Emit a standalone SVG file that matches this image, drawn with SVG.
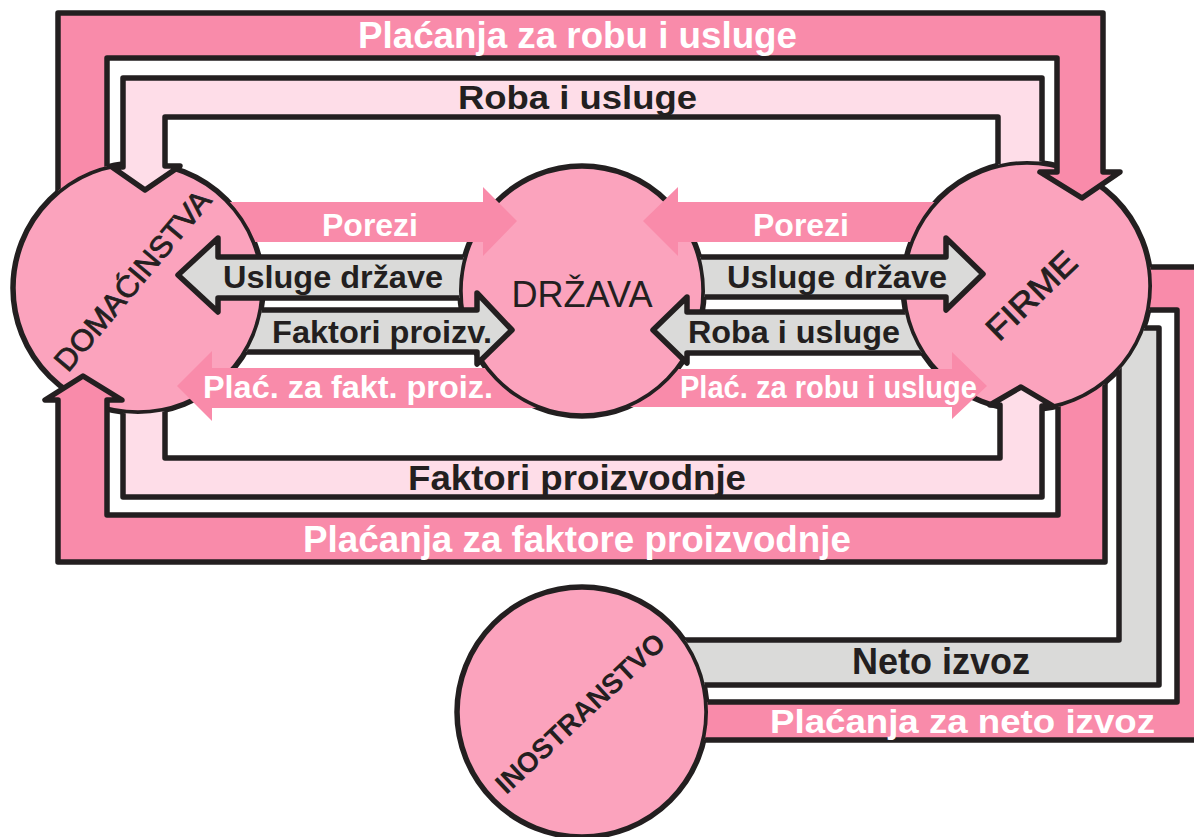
<svg xmlns="http://www.w3.org/2000/svg" width="1194" height="837" viewBox="0 0 1194 837">
<style>
.ol{stroke:#231F20;stroke-width:5.5;stroke-linejoin:round}
.pk{fill:#F98BAA}
.lp{fill:#FEDDE8}
.gr{fill:#DADAD9}
.nd{fill:#FBA3BD;stroke:#231F20;stroke-width:5.5}
.t{font-family:"Liberation Sans",Arial,sans-serif;font-weight:bold}
.w{fill:#FFFFFF}
.k{fill:#231F20}
.nl{font-family:"Liberation Sans",Arial,sans-serif;fill:#231F20}
.hv{stroke:#231F20;stroke-width:0.8}
</style>
<defs>
<clipPath id="cH"><path clip-rule="evenodd" d="M-10,-10H1210V850H-10Z M12,288a126,126 0 1,0 252,0a126,126 0 1,0 -252,0Z"/></clipPath>
<clipPath id="cS"><path clip-rule="evenodd" d="M459,291a123,126 0 1,0 246,0a123,126 0 1,0 -246,0Z M-10,-10H1210V850H-10Z"/></clipPath>
<clipPath id="cF"><path clip-rule="evenodd" d="M-10,-10H1210V850H-10Z M902,286a125,125 0 1,0 250,0a125,125 0 1,0 -250,0Z"/></clipPath>
<clipPath id="cFI"><path clip-rule="evenodd" d="M-10,-10H1210V850H-10Z M902,286a125,125 0 1,0 250,0a125,125 0 1,0 -250,0Z M456,712a126,126 0 1,0 252,0a126,126 0 1,0 -252,0Z"/></clipPath>
</defs>
<rect x="0" y="0" width="1194" height="837" fill="#FFFFFF"/>

<g id="domacinstva">
<circle class="nd" cx="138" cy="288" r="125"/>
<text class="nl hv" font-size="30" text-anchor="middle" textLength="225" lengthAdjust="spacingAndGlyphs" transform="translate(132,280) rotate(-50)" x="0" y="11">DOMAĆINSTVA</text>
</g>
<g id="drzava">
<ellipse class="nd" cx="582" cy="291" rx="122" ry="125"/>
<text class="nl" font-size="37" text-anchor="middle" textLength="141" lengthAdjust="spacingAndGlyphs" x="582" y="307">DRŽAVA</text>
</g>
<g id="firme">
<circle class="nd" cx="1027" cy="286" r="124"/>
<text class="nl hv" font-size="33" text-anchor="middle" textLength="112" lengthAdjust="spacingAndGlyphs" transform="translate(1031,295) rotate(-44)" x="0" y="12">FIRME</text>
</g>
<g id="inostranstvo">
<circle class="nd" cx="582" cy="712" r="125"/>
<text class="nl" font-size="28" font-weight="bold" text-anchor="middle" textLength="220" lengthAdjust="spacingAndGlyphs" transform="translate(580,713) rotate(-43)" x="0" y="10">INOSTRANSTVO</text>
</g>

<g id="connectors">
<path class="pk ol" clip-path="url(#cFI)" d="M600,702L1177,702L1177,310L1100,310L1100,267L1200,267L1200,740L600,740Z"/>
<path class="gr ol" clip-path="url(#cFI)" d="M600,640L1119,640L1119,345L1110,328L1159,328L1159,685L600,685Z"/>
<path class="pk ol" clip-path="url(#cH)" d="M58,260L58,13L1103,13L1103,172L1120,172L1082,198L1040,172L1057,172L1057,58L107,58L107,260Z"/>
<path class="lp ol" clip-path="url(#cF)" d="M998,250L998,117L165,117L165,166L180,166L145,190L112,167L123,167L123,78L1042,78L1042,250Z"/>
<path class="lp ol" clip-path="url(#cH)" d="M165,360L165,458L1000,458L1000,405L990,405L1021,387L1053,406L1042,406L1042,497L123,497L123,360Z"/>
<path class="pk ol" clip-path="url(#cF)" d="M1058,350L1058,515L107,515L107,400L122,400L83,376L45,400L58,400L58,562L1105,562L1105,350Z"/>

<path class="pk" clip-path="url(#cH)" d="M140,202L483,202L483,187L517,221L483,256L483,242L140,242Z"/>
<path class="gr ol" clip-path="url(#cS)" d="M560,257L218,257L218,238L178,275L218,312L218,298L560,298Z"/>
<path class="gr ol" clip-path="url(#cH)" d="M140,310L477,310L477,293L512,330L477,364L477,352L140,352Z"/>
<path class="pk" clip-path="url(#cS)" d="M600,368L212,368L212,351L177,386L212,421L212,408L600,408Z"/>
<path class="pk" clip-path="url(#cF)" d="M1000,202L678,202L678,187L643,221L678,256L678,242L1000,242Z"/>
<path class="gr ol" clip-path="url(#cS)" d="M600,257L946,257L946,238L983,274L946,310L946,297L600,297Z"/>
<path class="gr ol" clip-path="url(#cF)" d="M1000,312L687,312L687,297L653,330L687,363L687,353L1000,353Z"/>
<path class="pk" clip-path="url(#cS)" d="M600,369L952,369L952,352L987,386L952,419L952,407L600,407Z"/>
</g>

<g id="labels">
<text class="t w" font-size="36" x="358" y="48" textLength="439" lengthAdjust="spacingAndGlyphs">Plaćanja za robu i usluge</text>
<text class="t k" font-size="34" x="458" y="109" textLength="239" lengthAdjust="spacingAndGlyphs">Roba i usluge</text>
<text class="t w" font-size="32" x="322" y="236" textLength="96" lengthAdjust="spacingAndGlyphs">Porezi</text>
<text class="t k" font-size="32" x="223" y="288" textLength="220" lengthAdjust="spacingAndGlyphs">Usluge države</text>
<text class="t k" font-size="32" x="272" y="343" textLength="220" lengthAdjust="spacingAndGlyphs">Faktori proizv.</text>
<text class="t w" font-size="32" x="203" y="398" textLength="290" lengthAdjust="spacingAndGlyphs">Plać. za fakt. proiz.</text>
<text class="t w" font-size="32" x="753" y="236" textLength="96" lengthAdjust="spacingAndGlyphs">Porezi</text>
<text class="t k" font-size="32" x="727" y="288" textLength="220" lengthAdjust="spacingAndGlyphs">Usluge države</text>
<text class="t k" font-size="32" x="688" y="343" textLength="212" lengthAdjust="spacingAndGlyphs">Roba i usluge</text>
<text class="t w" font-size="32" x="680" y="398" textLength="297" lengthAdjust="spacingAndGlyphs">Plać. za robu i usluge</text>
<text class="t k" font-size="35" x="408" y="490" textLength="338" lengthAdjust="spacingAndGlyphs">Faktori proizvodnje</text>
<text class="t w" font-size="37" x="303" y="552" textLength="548" lengthAdjust="spacingAndGlyphs">Plaćanja za faktore proizvodnje</text>
<text class="t k" font-size="36" x="852" y="674" textLength="178" lengthAdjust="spacingAndGlyphs">Neto izvoz</text>
<text class="t w" font-size="34" x="770" y="733" textLength="385" lengthAdjust="spacingAndGlyphs">Plaćanja za neto izvoz</text>
</g>
</svg>
